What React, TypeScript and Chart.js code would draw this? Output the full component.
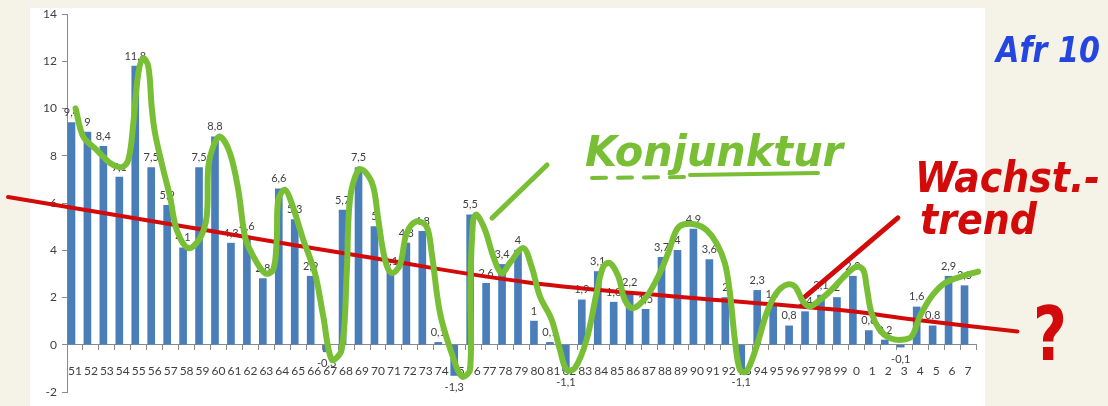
import React, { useEffect, useRef } from 'react';
import { Chart, registerables } from 'chart.js';

Chart.register(...registerables);

// Years (1951–2007), shown as two-digit labels
const years = [
  '51', '52', '53', '54', '55', '56', '57', '58', '59', '60',
  '61', '62', '63', '64', '65', '66', '67', '68', '69', '70',
  '71', '72', '73', '74', '75', '76', '77', '78', '79', '80',
  '81', '82', '83', '84', '85', '86', '87', '88', '89', '90',
  '91', '92', '93', '94', '95', '96', '97', '98', '99', '0',
  '1', '2', '3', '4', '5', '6', '7',
];

// Real GDP growth in %
const growth = [
  9.4, 9, 8.4, 7.1, 11.8, 7.5, 5.9, 4.1, 7.5, 8.8,
  4.3, 4.6, 2.8, 6.6, 5.3, 2.9, -0.3, 5.7, 7.5, 5.0,
  3.1, 4.3, 4.8, 0.1, -1.3, 5.5, 2.6, 3.4, 4.0, 1.0,
  0.1, -1.1, 1.9, 3.1, 1.8, 2.2, 1.5, 3.7, 4.0, 4.9,
  3.6, 2, -1.1, 2.3, 1.7, 0.8, 1.4, 2.1, 2, 2.9,
  0.6, 0.2, -0.1, 1.6, 0.8, 2.9, 2.5,
];

// Hand-drawn growth trend (red), positions in category index units
const trendX = [-4.2, 8.9, 18.7, 28.3, 38.0, 47.8, 52.7, 59.1];
const trendY = [6.25, 4.77, 3.67, 2.65, 2.02, 1.48, 1.06, 0.56];

// Hand-drawn business cycle (green)
const cycleX = [
  0.04, 0.52, 1.36, 2.2, 2.93, 3.35, 3.66, 3.97, 4.28, 4.6, 4.81, 5.02, 5.54, 5.96, 6.38, 7.11, 7.84, 8.26, 8.36, 8.67, 9.09,
  9.72, 10.24, 10.66, 11.08, 11.91, 12.43, 12.65, 12.75, 13.17, 13.59, 14.32, 15.05, 15.57, 16.1, 16.72, 17.04, 17.24, 17.76, 18.18,
  18.7, 19.02, 19.44, 19.86, 20.38, 20.8, 21.42, 22.05, 22.37, 22.89, 23.62, 24.25, 24.77, 24.8, 24.97, 25.19, 25.71, 26.23, 26.75, 27.27,
  28.11, 28.63, 29.16, 29.89, 30.41, 30.83, 31.35, 32.08, 32.71, 33.13, 33.54, 34.07, 34.48, 35.0, 35.84, 36.57, 37.2, 37.72,
  38.2, 38.98, 39.6, 40.23, 40.75, 41.07, 41.38, 41.7, 42.11, 42.74, 43.37, 43.99, 44.62, 45.14, 45.66, 46.08, 46.71, 47.23,
  47.9, 48.4, 49.01, 49.43, 49.64, 49.95, 50.47, 51.1, 51.83, 52.46, 52.98, 53.71, 54.55, 55.59, 56.63,
];
const cycleY = [
  10.0, 8.81, 8.25, 7.69, 7.52, 7.83, 9.38, 11.49, 12.13, 11.77, 10.08, 8.95, 7.4, 6.27, 4.86, 4.09, 4.51, 5.43, 7.54, 8.39, 8.81,
  8.11, 6.56, 4.58, 3.88, 3.03, 3.17, 4.44, 6.13, 6.56, 5.99, 4.44, 3.03, 1.2, -0.63, -0.21, 3.03, 6.13, 7.4, 7.33,
  6.7, 5.29, 3.6, 3.03, 3.38, 4.72, 5.22, 5.0, 3.88, 1.34, -0.35, -1.34, -1.06, 2.47, 5.29, 5.5, 4.86, 3.74, 3.03, 3.46,
  4.09, 3.31, 2.04, 1.06, -0.21, -1.06, -0.99, 0.21, 2.19, 3.31, 3.46, 2.89, 1.9, 1.55, 2.04, 2.89, 3.88, 4.86,
  5.1, 5.08, 4.86, 4.3, 3.46, 2.19, 0.21, -1.06, -1.13, -0.07, 1.34, 2.19, 2.54, 2.47, 1.83, 1.62, 1.9, 2.19,
  2.65, 3.0, 3.31, 3.17, 2.47, 1.34, 0.63, 0.28, 0.21, 0.35, 1.2, 2.04, 2.61, 2.89, 3.1,
];

// Pointer strokes of the annotations
const trendPointerX = [45.77, 51.6];
const trendPointerY = [2.03, 5.37];
const cyclePointerX = [26.15, 29.6];
const cyclePointerY = [5.36, 7.61];

const GREEN = '#78bf35';
const RED = '#d20a0a';
const BLUE = '#2445e0';
const AXIS = '#8a8a8a';
const TEXT = '#404040';
const FONT = 'Lato, "Liberation Sans", sans-serif';

const fmt = (v: number) => String(v).replace('.', ',');

const barLabels = {
  id: 'barLabels',
  afterDatasetDraw(chart: any, args: any) {
    if (args.index !== 0) return;
    const ctx = chart.ctx;
    ctx.save();
    ctx.font = `11px ${FONT}`;
    ctx.fillStyle = TEXT;
    ctx.textAlign = 'center';
    ctx.textBaseline = 'middle';
    args.meta.data.forEach((el: any, i: number) => {
      const v = growth[i];
      const y = v >= 0 ? el.y - 10 : el.y + 12;
      ctx.fillText(fmt(v), el.x, y);
    });
    ctx.restore();
  },
};

const handwriting = {
  id: 'handwriting',
  afterDraw(chart: any) {
    const ctx = chart.ctx;
    ctx.save();
    ctx.textBaseline = 'alphabetic';
    ctx.textAlign = 'left';
    const hand = '"DejaVu Sans", sans-serif';
    // Konjunktur
    ctx.fillStyle = GREEN;
    ctx.font = `italic bold 42px ${hand}`;
    ctx.fillText('Konjunktur', 585, 166, 258);
    ctx.strokeStyle = GREEN;
    ctx.lineWidth = 4;
    ctx.lineCap = 'round';
    ctx.setLineDash([14, 12]);
    ctx.beginPath();
    ctx.moveTo(592, 178);
    ctx.lineTo(690, 177);
    ctx.stroke();
    ctx.setLineDash([]);
    ctx.beginPath();
    ctx.moveTo(690, 175);
    ctx.lineTo(818, 173);
    ctx.stroke();
    // Wachst.-trend
    ctx.fillStyle = RED;
    ctx.font = `italic bold 42px ${hand}`;
    ctx.fillText('Wachst.-', 915, 192, 185);
    ctx.fillText('trend', 920, 234, 117);
    ctx.font = `bold 74px ${hand}`;
    ctx.fillText('?', 1033, 360, 34);
    // Afr 10
    ctx.fillStyle = BLUE;
    ctx.font = `italic bold 36px ${hand}`;
    ctx.fillText('Afr 10', 996, 62, 104);
    ctx.restore();
  },
};

export default function App() {
  const ref = useRef<HTMLCanvasElement | null>(null);

  useEffect(() => {
    document.body.style.margin = '0';
    if (!ref.current) return;
    const chart = new Chart(ref.current, {
      type: 'bar',
      data: {
        labels: years,
        datasets: [
          {
            type: 'bar',
            data: growth,
            backgroundColor: '#4a7ebb',
            barThickness: 7,
            order: 5,
          } as any,
          {
            type: 'line',
            xAxisID: 'xl',
            data: trendX.map((x, i) => ({ x, y: trendY[i] })),
            borderColor: RED,
            borderWidth: 4,
            borderCapStyle: 'round',
            pointRadius: 0,
            tension: 0.4,
            clip: false,
            order: 4,
          } as any,
          {
            type: 'line',
            xAxisID: 'xl',
            data: trendPointerX.map((x, i) => ({ x, y: trendPointerY[i] })),
            borderColor: RED,
            borderWidth: 5,
            borderCapStyle: 'round',
            pointRadius: 0,
            clip: false,
            order: 3,
          } as any,
          {
            type: 'line',
            xAxisID: 'xl',
            data: cyclePointerX.map((x, i) => ({ x, y: cyclePointerY[i] })),
            borderColor: GREEN,
            borderWidth: 5,
            borderCapStyle: 'round',
            pointRadius: 0,
            clip: false,
            order: 2,
          } as any,
          {
            type: 'line',
            xAxisID: 'xl',
            data: cycleX.map((x, i) => ({ x, y: cycleY[i] })),
            borderColor: GREEN,
            borderWidth: 6,
            borderCapStyle: 'round',
            borderJoinStyle: 'round',
            pointRadius: 0,
            tension: 0.35,
            clip: false,
            order: 1,
          } as any,
        ],
      },
      options: {
        animation: false,
        responsive: false,
        layout: { padding: { top: 14, bottom: 14, right: 132, left: 0 } },
        plugins: { legend: { display: false }, tooltip: { enabled: false } },
        scales: {
          x: {
            type: 'category',
            position: { y: 0 } as any,
            offset: true,
            grid: { display: true, drawOnChartArea: false, drawTicks: true, tickLength: 5, color: AXIS, offset: true },
            border: { display: true, color: AXIS },
            ticks: { autoSkip: false, maxRotation: 0, color: TEXT, font: { family: FONT, size: 12 }, padding: 14 },
          },
          xl: {
            type: 'linear',
            display: false,
            offset: false,
            grid: { offset: false },
            bounds: 'data',
            min: -0.5,
            max: 56.5,
          },
          y: {
            min: -2,
            max: 14,
            ticks: { stepSize: 2, color: TEXT, font: { family: FONT, size: 12 }, padding: 5 },
            grid: { drawOnChartArea: false, drawTicks: true, tickLength: 5, color: AXIS },
            border: { display: true, color: AXIS },
            afterFit: (s: any) => { s.width = 67; },
          },
        },
      } as any,
      plugins: [barLabels, handwriting],
    });
    return () => chart.destroy();
  }, []);

  return (
    <div style={{ position: 'relative', width: 1108, height: 406, background: '#f5f2e7', overflow: 'hidden' }}>
      <div style={{ position: 'absolute', left: 30, top: 8, width: 955, height: 398, background: '#ffffff' }} />
      <canvas ref={ref} width={1108} height={406} style={{ position: 'absolute', left: 0, top: 0, width: 1108, height: 406 }} />
    </div>
  );
}
